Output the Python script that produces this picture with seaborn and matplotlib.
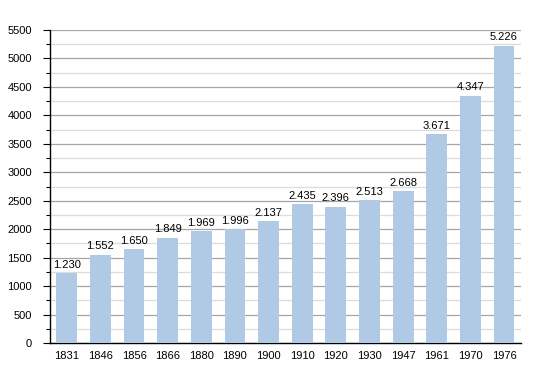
import matplotlib
matplotlib.use('Agg')
import matplotlib.pyplot as plt
import seaborn as sns
import pandas as pd
from matplotlib.ticker import MultipleLocator

years = ['1831', '1846', '1856', '1866', '1880', '1890', '1900', '1910',
         '1920', '1930', '1947', '1961', '1970', '1976']
population = [1230, 1552, 1650, 1849, 1969, 1996, 2137, 2435, 2396, 2513,
              2668, 3671, 4347, 5226]

sns.set_style('white')
plt.rcParams['font.family'] = ['Liberation Sans', 'DejaVu Sans']
plt.rcParams['text.color'] = 'black'
plt.rcParams['xtick.color'] = 'black'
plt.rcParams['ytick.color'] = 'black'

data = pd.DataFrame({'Year': years, 'Population': population})

fig = plt.figure(figsize=(5.5, 3.73), dpi=100)
ax = fig.add_axes([0.0909, 0.0804, 0.856, 0.8392])
sns.barplot(x='Year', y='Population', data=data, color='#b0c9e5',
            saturation=1, width=0.62, linewidth=0, edgecolor='none',
            ax=ax, zorder=3)

ax.set_ylim(0, 5500)
ax.set_xlim(-0.5, len(years) - 0.5)
ax.yaxis.set_major_locator(MultipleLocator(500))
ax.yaxis.set_minor_locator(MultipleLocator(250))
ax.grid(which='major', axis='y', color='#a6a6a6', linewidth=0.9, zorder=0)
ax.grid(which='minor', axis='y', color='#dcdcdc', linewidth=0.9, zorder=0)
ax.set_axisbelow(True)

for side in ['top', 'right']:
    ax.spines[side].set_visible(False)
for side in ['left', 'bottom']:
    ax.spines[side].set_color('black')
    ax.spines[side].set_linewidth(1.0)

ax.tick_params(axis='y', which='major', left=True, length=5, width=0.8,
               labelsize=8, pad=8)
ax.tick_params(axis='y', which='minor', left=True, length=3, width=0.8)
ax.tick_params(axis='x', bottom=False, labelsize=8, pad=2)
ax.set_xlabel('')
ax.set_ylabel('')

for i, v in enumerate(population):
    label = '{:,}'.format(v).replace(',', '.')
    ax.text(i, v + 60, label, ha='center', va='bottom', fontsize=8)

fig.savefig('out.png', dpi=100)
